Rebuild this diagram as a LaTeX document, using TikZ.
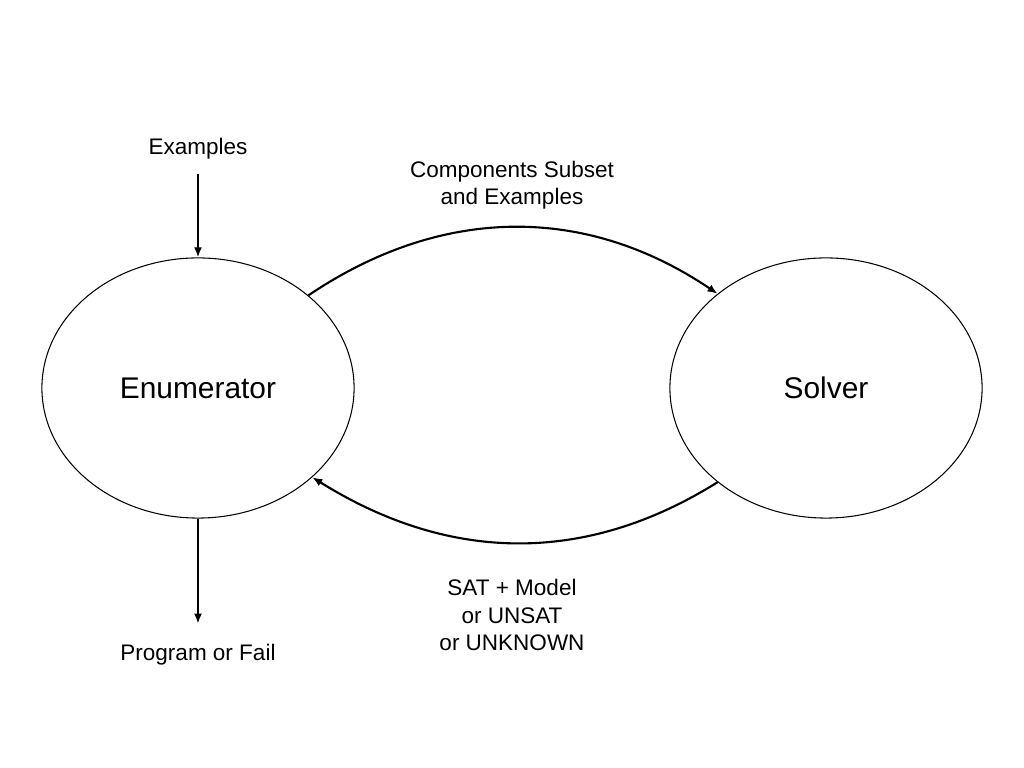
\documentclass[tikz,border=0pt]{standalone}
\usepackage{fontspec}
\setmainfont{Liberation Sans}
\usetikzlibrary{shapes.geometric,arrows.meta}

\tikzset{
  agent/.style={ellipse,draw,line width=.3pt,minimum width=3.12cm,minimum height=2.6cm,font=\fontsize{8.5}{10}\selectfont},
  lbl/.style={align=center,font=\fontsize{6.4}{7.8}\selectfont},
  flow/.style={-{Latex[length=1mm,width=.8mm]},line width=.6pt}
}

\begin{document}
\begin{tikzpicture}[x=.01cm,y=-.01cm]
\useasboundingbox (0,0) rectangle (1024,768);
\node[agent] (enum) at (198,388) {Enumerator};
\node[agent] (solver) at (826,388) {Solver};
\node[lbl] (ex) at (198,149) {Examples};
\node[lbl] (prog) at (198,655) {Program or Fail};
\node[lbl] (req) at (512,185) {Components Subset\\and Examples};
\node[lbl] (ans) at (512,615) {SAT + Model\\or UNSAT\\or UNKNOWN};
% inputs and outputs
\draw[flow,shorten <=.7pt] (ex) -- (enum);
\draw[flow,shorten >=2.4pt] (enum) -- (prog);
% the loop
\draw[flow] (enum.40) to[out=34,in=146] (solver.139);
\draw[flow] (solver.221) to[out=212,in=328] (enum.322);
\end{tikzpicture}
\end{document}
